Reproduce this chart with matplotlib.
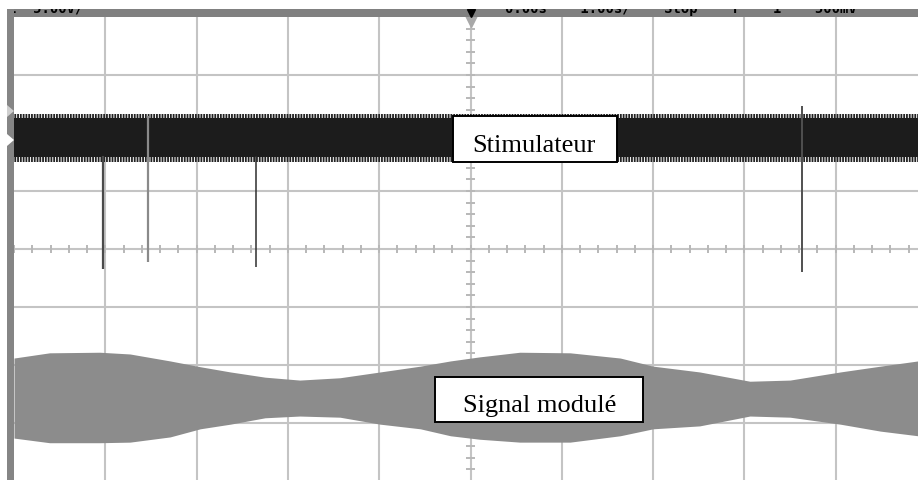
import matplotlib
matplotlib.use("Agg")
import matplotlib.pyplot as plt
from matplotlib.patches import Rectangle, Polygon
import numpy as np

plt.rcParams["hatch.linewidth"] = 1.3

# ---------------- data (in screen divisions) ----------------
# envelope of the modulated signal (gray trace)
env_x = [0.0, 0.39, 0.94, 1.27, 1.71, 2.04, 2.37, 2.75, 3.13, 3.57, 4.01, 4.45,
         4.78, 5.10, 5.54, 6.09, 6.64, 7.00, 7.51, 8.06, 8.50, 9.05, 9.49, 9.90]
env_top = [-1.88, -1.79, -1.78, -1.81, -1.93, -2.03, -2.12, -2.21, -2.26, -2.22, -2.12, -2.02,
           -1.93, -1.86, -1.78, -1.79, -1.88, -2.02, -2.12, -2.28, -2.26, -2.12, -2.02, -1.93]
env_bottom = [-3.26, -3.34, -3.34, -3.33, -3.24, -3.10, -3.02, -2.91, -2.88, -2.90, -3.02, -3.10,
              -3.22, -3.28, -3.33, -3.33, -3.22, -3.10, -3.05, -2.88, -2.90, -3.02, -3.14, -3.22]

# stimulator trace (black, dense carrier)
stim_x = [0.0, 9.90]
stim_top = [2.26, 2.26]
stim_bottom = [1.59, 1.59]
stim_teeth_top = [2.33, 2.33]
stim_teeth_bottom = [1.50, 1.50]

# stimulator pulses (spikes)
spike_x = [0.975, 1.468, 2.651, 8.631]
spike_low = [-0.345, -0.22, -0.31, -0.40]
spike_high = [1.60, 2.30, 1.60, 2.47]

labels = ["Stimulateur", "Signal modulé"]
header_left = "1  5.00V/"
header_right = "0.00s    1.00s/    Stop    f    1    500mV"

# ---------------- figure ----------------
W, H = 918, 481
fig = plt.figure(figsize=(W / 100, H / 100), dpi=100)
fig.patch.set_facecolor("white")

px = 91.3   # pixels per horizontal division
py = 58.0   # pixels per vertical division
left_px, top_px = 14, 18
ax = fig.add_axes([left_px / W, 0, (W - left_px) / W, (H - top_px) / H])
ax.set_xlim(0, (W - left_px) / px)
ax.set_ylim(-(H - 250) / py, (250 - top_px) / py)
ax.set_facecolor("white")
ax.axis("off")

grid_c = "#c4c4c4"
for k in range(1, 10):
    ax.axvline(k, color=grid_c, lw=1.5, zorder=1)
for k in range(-3, 4):
    ax.axhline(k, color=grid_c, lw=1.5, zorder=1)

# minor ticks on centre axes
for t in np.arange(0, 10, 0.2):
    ax.plot([t, t], [-0.07, 0.07], color="#b8b8b8", lw=1.4, zorder=1, solid_capstyle="butt")
for t in np.arange(-4, 4.01, 0.2):
    ax.plot([4.955, 5.045], [t, t], color="#b8b8b8", lw=1.4, zorder=1, solid_capstyle="butt")

# modulated signal
ax.fill_between(env_x, env_top, env_bottom, color="#8c8c8c", lw=0, zorder=2)

# stimulator band
ax.fill_between(stim_x, stim_top, stim_bottom, color="#1c1c1c", lw=0, zorder=3)
ax.fill_between(stim_x, stim_teeth_top, stim_top, facecolor="none", edgecolor="#222222",
                hatch="||||||", lw=0, zorder=3)
ax.fill_between(stim_x, stim_bottom, stim_teeth_bottom, facecolor="none", edgecolor="#222222",
                hatch="||||||", lw=0, zorder=3)

spike_colors = ["#4a4a4a", "#8a8a8a", "#2e2e2e", "#505050"]
spike_widths = [1.6, 1.6, 1.1, 1.4]
for x, lo, hi, c, w in zip(spike_x, spike_low, spike_high, spike_colors, spike_widths):
    ax.plot([x, x], [lo, hi], color=c, lw=w, zorder=4, solid_capstyle="butt")

# label boxes
ax.add_patch(Rectangle((4.808, 1.50), 6.605 - 4.808, 2.293 - 1.50, facecolor="white",
                       edgecolor="black", lw=1.4, zorder=5))
ax.text(5.70, 1.695, labels[0], ha="center", va="baseline", fontsize=19,
        family="Liberation Serif", zorder=6)

ax.add_patch(Rectangle((4.611, -2.983), 6.889 - 4.611, -2.207 + 2.983, facecolor="white",
                       edgecolor="black", lw=1.4, zorder=5))
t2 = ax.text(5.76, -2.793, labels[1], ha="center", va="baseline", fontsize=19,
             family="Liberation Serif", zorder=6)
clip = Rectangle((4.62, -2.83), 2.26, 0.62, transform=ax.transData, visible=False)
ax.add_patch(clip)
t2.set_clip_path(clip)

# trigger marker under header
ax.plot([5.0], [3.93], marker="v", ms=8, color="#a8a8a8", zorder=6, clip_on=False)

# header bar
hax = fig.add_axes([7 / W, (H - 18) / H, (W - 7) / W, 8 / H])
hax.set_facecolor("#808080")
hax.set_xlim(7, W)
hax.set_ylim(18, 10)
hax.set_xticks([]); hax.set_yticks([])
for s in hax.spines.values():
    s.set_visible(False)
hax.text(8, 13.0, header_left, ha="left", va="baseline", fontsize=10, family="DejaVu Sans Mono",
         fontweight="bold", color="black", clip_on=True)
hax.text(505, 13.0, header_right, ha="left", va="baseline", fontsize=10, family="DejaVu Sans Mono",
         fontweight="bold", color="black", clip_on=True)
hax.plot([471], [14], marker="v", ms=6, color="black")

# left channel bar
fig.patches.append(Rectangle((7 / W, 0), 7 / W, (H - 10) / H, transform=fig.transFigure,
                             facecolor="#858585", edgecolor="none"))
def fp(x, y):
    return (x / W, (H - y) / H)
fig.patches.append(Polygon([fp(7, 106), fp(14, 112), fp(7, 118)], closed=True,
                           transform=fig.transFigure, facecolor="#cfcfcf", edgecolor="none"))
fig.patches.append(Polygon([fp(7, 135), fp(14, 141), fp(7, 147)], closed=True,
                           transform=fig.transFigure, facecolor="white", edgecolor="none"))

fig.savefig("out.png", dpi=100, facecolor="white")
